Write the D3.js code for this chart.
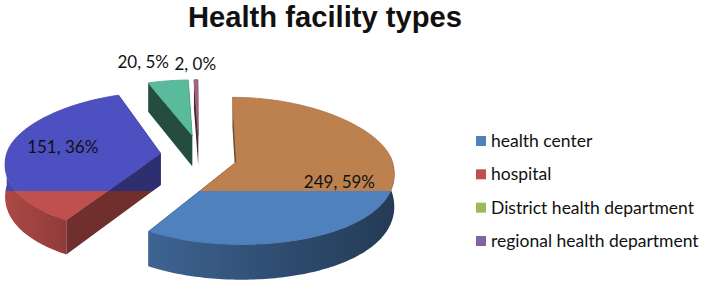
<!DOCTYPE html>
<html>
<head>
<meta charset="utf-8">
<script src="https://cdn.jsdelivr.net/npm/d3@7"></script>
<style>
  html, body { margin: 0; padding: 0; background: #fff; }
  text { font-family: Lato, "Open Sans", sans-serif; fill: #111; }
</style>
</head>
<body>
<div class="chart"></div>
<script>
const categories = ["health center", "hospital", "District health department", "regional health department"];
const counts = [249, 151, 20, 2];
const colors = ["#4f81bd", "#c0504d", "#9bbb59", "#8064a2"];
// the reference swaps red and blue on everything above the split line
const upperColors = ["#bd814f", "#4d50c0", "#59bb9b", "#a26480"];

const width = 702, height = 287;
const splitY = 191; // where the colours flip

const svg = d3.select(".chart").append("svg")
  .attr("width", width)
  .attr("height", height)
  .style("display", "block");

const defs = svg.append("defs");
defs.append("clipPath").attr("id", "upper").append("rect")
  .attr("x", 0).attr("y", 0).attr("width", width).attr("height", splitY);
defs.append("clipPath").attr("id", "lower").append("rect")
  .attr("x", 0).attr("y", splitY).attr("width", width).attr("height", height - splitY);

// 3d-ish projection, fitted by eye
const centerX = 199, centerY = 156;
const explodeX = 39, explodeY = 21;
const radius = 156, ryBack = 62.5, ryFront = 80;
const vanishX = 195, vanishY = 162;

const total = d3.sum(counts);
const slices = d3.pie().sort(null)(counts);

function offsetOf(d) {
  const mid = (d.startAngle + d.endAngle) / 2;
  return { x: explodeX * Math.sin(mid), y: -explodeY * Math.cos(mid) };
}

function project(d, a, r) {
  const o = offsetOf(d);
  const scale = 1 + o.y * 0.0055;
  const c = Math.cos(a);
  const ry = (c > 0 ? ryBack : ryFront) * scale;
  const y = centerY + o.y - c * ry * r;
  const rawX = centerX + o.x + Math.sin(a) * radius * r;
  const f = 1 + (y - vanishY) * 0.0015;
  return [vanishX + (rawX - vanishX) * f, y];
}

const depthAt = y => 31.5 + (y - 150) * 0.04;
const line = d3.line();

function rim(d, a0, a1) {
  const n = Math.max(2, Math.ceil(Math.abs(a1 - a0) / 0.02));
  return d3.range(n + 1).map(i => project(d, a0 + (a1 - a0) * i / n, 1));
}
const drop = pts => pts.map(p => [p[0], p[1] + depthAt(p[1])]).reverse();

function topPath(d) {
  return line([project(d, 0, 0)].concat(rim(d, d.startAngle, d.endAngle))) + "Z";
}
function sidePath(d, a) {
  const pts = [project(d, 0, 0), project(d, a, 1)];
  return line(pts.concat(drop(pts))) + "Z";
}
function outerPath(d) {
  // only the part of the rim that faces the viewer
  const a0 = Math.max(d.startAngle, Math.PI * 0.47);
  const a1 = Math.min(d.endAngle, Math.PI * 1.5);
  if (a1 <= a0) return null;
  const pts = rim(d, a0, a1);
  return line(pts.concat(drop(pts))) + "Z";
}

function gradient(id, base) {
  const g = defs.append("linearGradient").attr("id", id);
  const c = d3.color(base);
  // the big front wall runs dark towards the right
  g.append("stop").attr("offset", "0%").attr("stop-color", c.darker(0.7));
  g.append("stop").attr("offset", "55%").attr("stop-color", c.darker(1.5));
  g.append("stop").attr("offset", "100%").attr("stop-color", c.darker(2.2));
  return "url(#" + id + ")";
}
function gradientLeft(id, base) {
  const g = defs.append("linearGradient").attr("id", id).attr("x1", "0%").attr("x2", "100%");
  const c = d3.color(base);
  g.append("stop").attr("offset", "0%").attr("stop-color", c.darker(0.3));
  g.append("stop").attr("offset", "100%").attr("stop-color", c.darker(0.8));
  return "url(#" + id + ")";
}

function drawLayer(clipId, palette) {
  const layer = svg.append("g").attr("clip-path", "url(#" + clipId + ")");
  const order = slices.slice().reverse();

  layer.selectAll("path.side")
    .data(order.flatMap(d => [{ d, a: d.startAngle }, { d, a: d.endAngle }]))
    .join("path")
    .attr("class", "side")
    .attr("d", s => sidePath(s.d, s.a))
    .attr("fill", s => d3.color(palette[s.d.index]).darker(s.d.index > 1 ? 2.5 : 1.5));

  layer.selectAll("path.outer")
    .data(order.filter(d => outerPath(d)))
    .join("path")
    .attr("class", "outer")
    .attr("d", outerPath)
    .attr("fill", d => d.index === 0
      ? gradient(clipId + "-wall" + d.index, palette[d.index])
      : gradientLeft(clipId + "-wall" + d.index, palette[d.index]));

  layer.selectAll("path.top")
    .data(order)
    .join("path")
    .attr("class", "top")
    .attr("d", topPath)
    .attr("fill", d => palette[d.index])
    .attr("stroke", d => d3.color(palette[d.index]).darker(0.3))
    .attr("stroke-width", 0.8);
}

drawLayer("upper", upperColors);
drawLayer("lower", colors);

svg.append("text")
  .attr("x", 325)
  .attr("y", 27)
  .attr("text-anchor", "middle")
  .style("font-family", "'Liberation Sans', sans-serif")
  .attr("font-size", 29)
  .attr("font-weight", 700)
  .attr("textLength", 274)
  .attr("lengthAdjust", "spacingAndGlyphs")
  .text("Health facility types");

// data labels, placed relative to each slice apex
const labelShift = [[103, 26], [-98, -1], [-49, -67], [-3, -65]];
svg.selectAll("text.label")
  .data(slices)
  .join("text")
  .attr("class", "label")
  .attr("font-size", 17)
  .attr("text-anchor", "middle")
  .attr("x", d => project(d, 0, 0)[0] + labelShift[d.index][0])
  .attr("y", d => project(d, 0, 0)[1] + labelShift[d.index][1])
  .text(d => d.value + ", " + Math.round(d.value / total * 100) + "%");

// legend
const legendY = d3.scalePoint().domain(categories).range([141, 241]);
const legend = svg.selectAll("g.legend")
  .data(categories)
  .join("g")
  .attr("class", "legend")
  .attr("transform", d => "translate(476," + legendY(d) + ")");
legend.append("rect")
  .attr("x", 0).attr("y", -5)
  .attr("width", 10).attr("height", 10)
  .attr("fill", (d, i) => colors[i]);
legend.append("text")
  .attr("x", 15)
  .attr("y", 6)
  .attr("font-size", 17.5)
  .text(d => d);
</script>
</body>
</html>
